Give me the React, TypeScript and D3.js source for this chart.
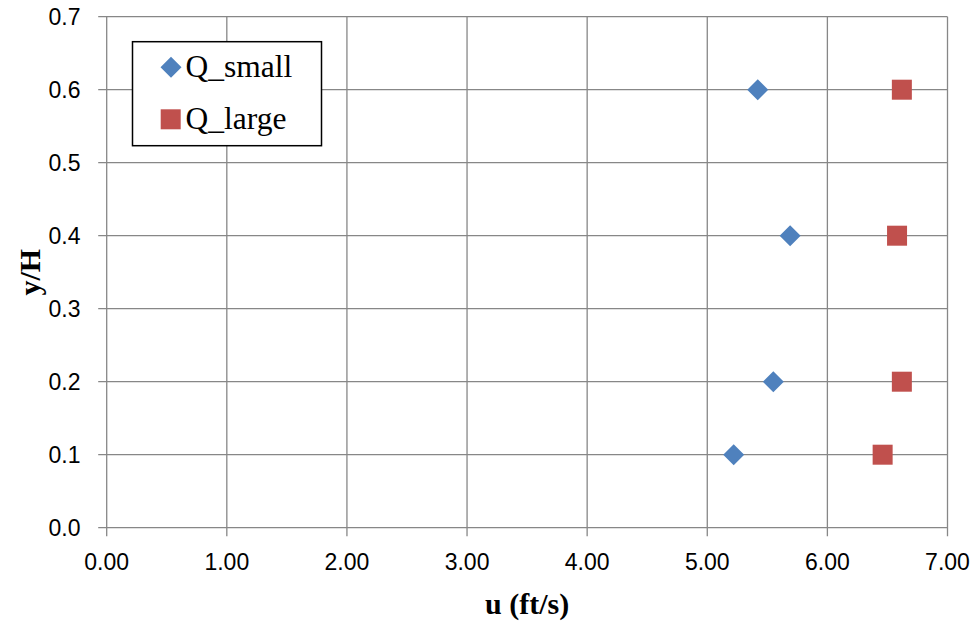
import React from "react";
import * as d3 from "d3";

const yLevels = [0.1, 0.2, 0.4, 0.6];
const qSmall = [5.22, 5.55, 5.69, 5.42];
const qLarge = [6.46, 6.62, 6.58, 6.62];
const xTicks = [0, 1, 2, 3, 4, 5, 6, 7];
const yTicks = [0, 0.1, 0.2, 0.3, 0.4, 0.5, 0.6, 0.7];
const seriesNames = ["Q_small", "Q_large"];

const W = 977;
const H = 625;
const left = 106.7;
const right = 947.5;
const top = 16.7;
const bottom = 527.7;

export default function App() {
  const x = d3.scaleLinear().domain([0, 7]).range([left, right]);
  const y = d3.scaleLinear().domain([0, 0.7]).range([bottom, top]);
  const grid = "#878787";
  const blue = "#4F81BD";
  const red = "#C0504D";
  const diamond = (s: number) => {
    const p = d3.path();
    p.moveTo(0, -s);
    p.lineTo(s, 0);
    p.lineTo(0, s);
    p.lineTo(-s, 0);
    p.closePath();
    return p.toString();
  };
  return (
    <svg width={W} height={H} style={{ position: "absolute", left: 0, top: 0, background: "#fff" }}>
      {xTicks.map((t) => (
        <line key={"gx" + t} x1={x(t)} x2={x(t)} y1={top} y2={bottom + 8.5} stroke={grid} strokeWidth={1.3} />
      ))}
      {yTicks.map((t) => (
        <line key={"gy" + t} x1={left - 8.5} x2={right} y1={y(t)} y2={y(t)} stroke={grid} strokeWidth={1.3} />
      ))}
      {yTicks.map((t) => (
        <text key={"ly" + t} x={80.5} y={y(t) + 8} textAnchor="end" fontFamily="'Liberation Sans', Arial, sans-serif" fontSize={23} fill="#000">
          {d3.format(".1f")(t)}
        </text>
      ))}
      {xTicks.map((t) => (
        <text key={"lx" + t} x={x(t)} y={570} textAnchor="middle" fontFamily="'Liberation Sans', Arial, sans-serif" fontSize={23} fill="#000">
          {d3.format(".2f")(t)}
        </text>
      ))}
      <text x={(left + right) / 2} y={614} textAnchor="middle" fontFamily="'Liberation Serif', 'Times New Roman', serif" fontWeight="bold" fontSize={30}>
        u (ft/s)
      </text>
      <text transform={`translate(40, ${(top + bottom) / 2}) rotate(-90)`} textAnchor="middle" fontFamily="'Liberation Serif', 'Times New Roman', serif" fontWeight="bold" fontSize={30}>
        y/H
      </text>
      {qSmall.map((v, i) => (
        <path key={"s" + i} d={diamond(10.5)} transform={`translate(${x(v)},${y(yLevels[i])})`} fill={blue} />
      ))}
      {qLarge.map((v, i) => (
        <rect key={"l" + i} x={x(v) - 10} y={y(yLevels[i]) - 10} width={20} height={20} fill={red} />
      ))}
      <rect x={132.5} y={41.7} width={189} height={104} fill="#fff" stroke="#000" strokeWidth={1.5} />
      <path d={diamond(10.5)} transform="translate(171,67.3)" fill={blue} />
      <rect x={160.7} y={109.3} width={20} height={20} fill={red} />
      <text x={185.5} y={77} fontFamily="'Liberation Serif', 'Times New Roman', serif" fontSize={31.5}>
        {seriesNames[0]}
      </text>
      <text x={185.5} y={129} fontFamily="'Liberation Serif', 'Times New Roman', serif" fontSize={31.5}>
        {seriesNames[1]}
      </text>
    </svg>
  );
}
